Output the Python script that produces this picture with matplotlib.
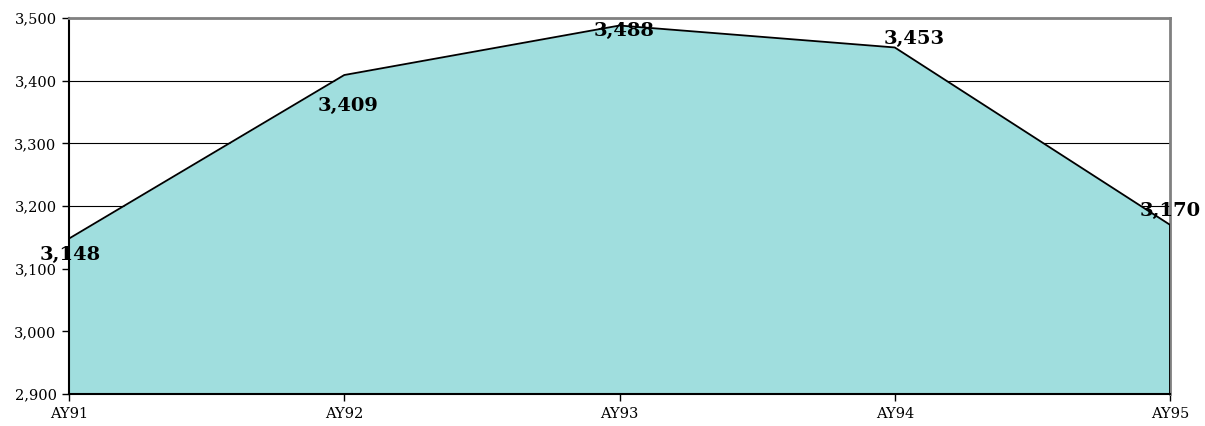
import matplotlib.pyplot as plt
from matplotlib.ticker import FuncFormatter

years = ["AY91", "AY92", "AY93", "AY94", "AY95"]
values = [3148, 3409, 3488, 3453, 3170]
# where Excel dropped each data label, in points from the data point
label_dx = [1, 3, 3, 14, 0]
label_dy = [-12, -22, -4, 6, 10]

plt.rcParams["font.family"] = ["DejaVu Serif"]

fig = plt.figure(figsize=(12.05, 4.26), dpi=100)
ax = fig.add_axes([69 / 1205, 1 - 394 / 426, (1170 - 69) / 1205, (394 - 18) / 426])

x = list(range(len(years)))
ax.fill_between(x, values, 2900, color="#a0dede", linewidth=0, zorder=2)
ax.plot(x, values, color="black", linewidth=1.3, zorder=3)
ax.vlines(x[-1], 2900, values[-1], color="black", linewidth=1.3, zorder=3)

for xi, v, dx, dy in zip(x, values, label_dx, label_dy):
    ax.annotate(f"{v:,}", (xi, v), xytext=(dx, dy), textcoords="offset points",
                ha="center", va="center", fontsize=14, fontweight="bold", zorder=4,
                annotation_clip=False)

ax.set_xlim(0, len(years) - 1)
ax.set_ylim(2900, 3500)
ax.set_xticks(x)
ax.set_xticklabels(years)
ax.set_yticks(range(2900, 3501, 100))
ax.yaxis.set_major_formatter(FuncFormatter(lambda v, p: f"{int(v):,}"))
ax.grid(axis="y", color="black", linewidth=0.8, zorder=1)
ax.tick_params(labelsize=10.5, length=5, width=1, direction="out", pad=4)

ax.spines["left"].set_linewidth(1.5)
ax.spines["bottom"].set_linewidth(1.5)
for s in ("top", "right"):
    ax.spines[s].set_color("#808080")
    ax.spines[s].set_linewidth(2)

fig.savefig("out.png", dpi=100)
